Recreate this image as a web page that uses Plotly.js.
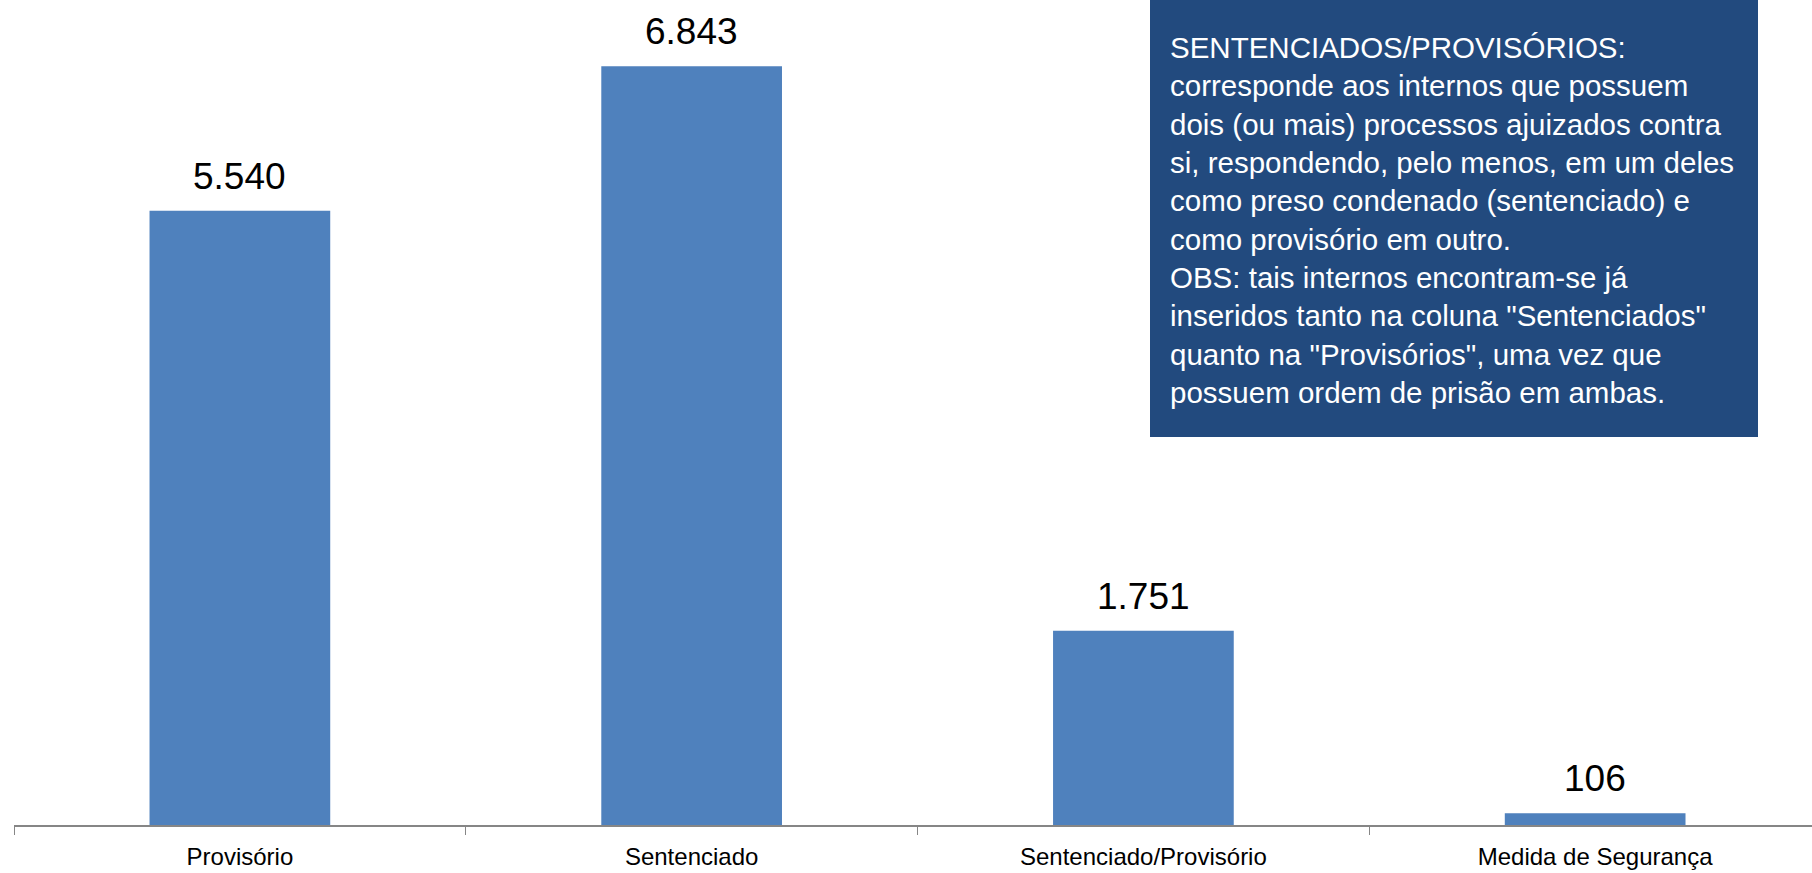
<!DOCTYPE html>
<html>
<head>
<meta charset="utf-8">
<script src="https://cdn.plot.ly/plotly-3.0.1.min.js"></script>
<style>
  html, body { margin: 0; padding: 0; background: #ffffff; }
  #chart { width: 1812px; height: 873px; }
</style>
</head>
<body>
<div id="chart"></div>
<script>
const categories = ["Provisório", "Sentenciado", "Sentenciado/Provisório", "Medida de Segurança"];
const values = [5540, 6843, 1751, 106];
const noteLines = [
  "SENTENCIADOS/PROVISÓRIOS:",
  "corresponde aos internos que possuem",
  "dois (ou mais) processos ajuizados contra",
  "si, respondendo, pelo menos, em um deles",
  "como preso condenado (sentenciado) e",
  "como provisório em outro.",
  "OBS: tais internos encontram-se já",
  "inseridos tanto na coluna \"Sentenciados\"",
  "quanto na \"Provisórios\", uma vez que",
  "possuem ordem de prisão em ambas."
];

function fmt(v) {
  return String(v).replace(/\B(?=(\d{3})+(?!\d))/g, ".");
}

const FONT = "Liberation Sans, Arial, sans-serif";

const trace = {
  type: "bar",
  x: categories,
  y: values,
  marker: { color: "#4F81BD" },
  hoverinfo: "skip"
};

const valueLabels = categories.map((c, i) => ({
  x: c, y: values[i], xref: "x", yref: "y",
  text: fmt(values[i]),
  showarrow: false,
  yanchor: "bottom",
  yshift: 12,
  font: { family: FONT, size: 37, color: "#000000" }
}));

const layout = {
  width: 1812, height: 873,
  margin: { l: 14, r: 0, t: 0, b: 48 },
  paper_bgcolor: "#ffffff",
  plot_bgcolor: "#ffffff",
  showlegend: false,
  bargap: 0.6,
  xaxis: {
    type: "category",
    range: [-0.5, 3.48],
    tickson: "boundaries",
    ticks: "outside",
    ticklen: 8,
    tickwidth: 1,
    tickcolor: "#868686",
    showline: true,
    linecolor: "#868686",
    linewidth: 2,
    showgrid: false,
    zeroline: false,
    ticklabelstandoff: 9,
    tickfont: { family: FONT, size: 24, color: "#000000" },
    fixedrange: true
  },
  yaxis: {
    range: [0, 7440],
    showgrid: false,
    zeroline: false,
    showline: false,
    showticklabels: false,
    ticks: "",
    fixedrange: true
  },
  shapes: [{
    type: "rect", xref: "paper", yref: "paper",
    x0: (1150 - 14) / 1798, x1: (1758 - 14) / 1798,
    y0: (825 - 437) / 825, y1: 1,
    fillcolor: "#224A7E", line: { width: 0 }, layer: "above"
  }],
  annotations: valueLabels.concat([{
    xref: "paper", yref: "paper",
    x: (1168 - 14) / 1798, y: (825 - 29) / 825,
    xanchor: "left", yanchor: "top", align: "left",
    showarrow: false,
    text: noteLines.join("<br>"),
    font: { family: FONT, size: 29.5, color: "#ffffff" }
  }])
};

Plotly.newPlot("chart", [trace], layout, { displayModeBar: false, staticPlot: true });
</script>
</body>
</html>
